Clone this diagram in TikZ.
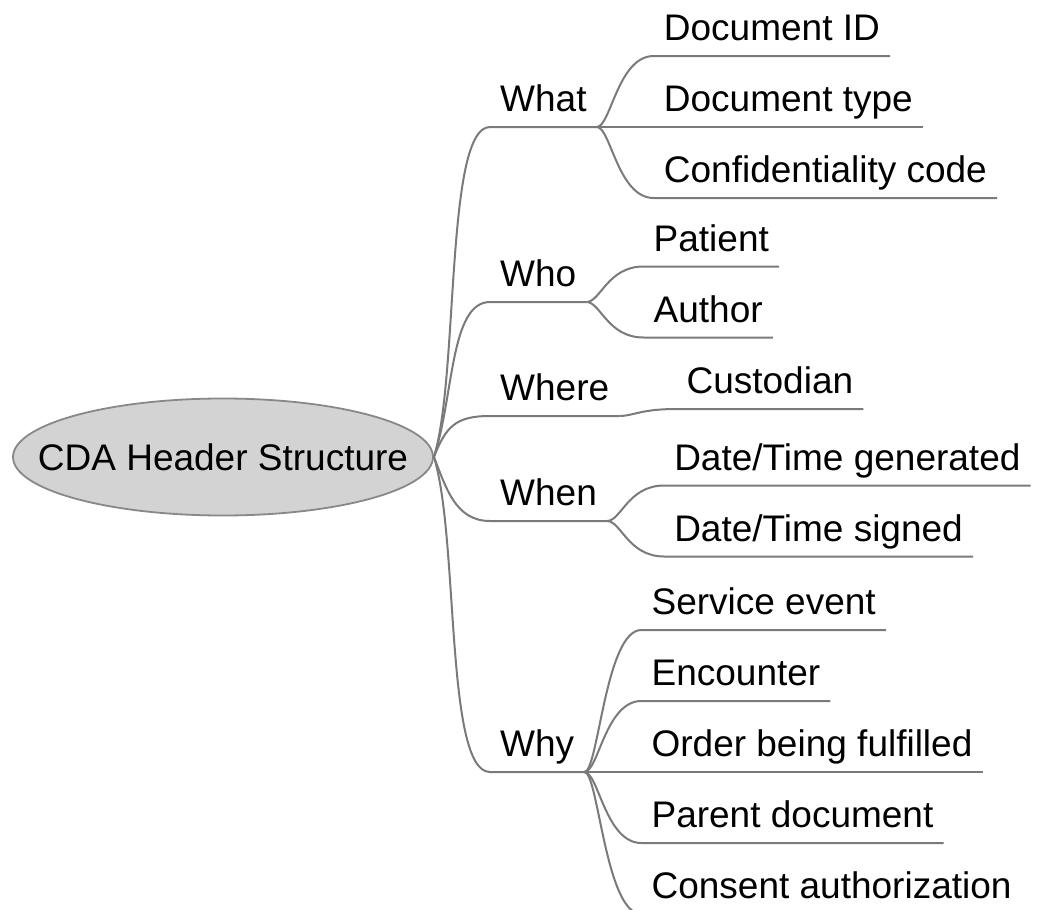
\documentclass[tikz,border=0pt]{standalone}
\usepackage{fontspec}
\setmainfont{Liberation Sans}
\usepackage{tikz}
\usetikzlibrary{shapes.geometric}
\definecolor{linegray}{HTML}{7A7A7A}
\definecolor{fillgray}{HTML}{D3D3D3}
\definecolor{rimgray}{HTML}{888888}

\begin{document}
\begin{tikzpicture}[x=1pt,y=-1pt]
	\tikzstyle{rootnode} = [ellipse, draw=rimgray, fill=fillgray, line width=1.8pt, minimum width=420pt, minimum height=117pt, inner sep=0pt, font=\fontsize{37}{44}\selectfont]
	\tikzstyle{topic} = [anchor=south west, inner xsep=10pt, inner ysep=15pt, text depth=0pt, font=\fontsize{37}{44}\selectfont]
	\tikzstyle{limb} = [draw=linegray, line width=2pt]
	\tikzstyle{fan} = [grow'=right, level distance=57pt, sibling distance=71pt, edge from parent/.style={limb}, edge from parent path={(\tikzparentnode) .. controls +(14,0) and +(-36,0) .. (\tikzchildnode.south west) -- (\tikzchildnode.south east)}]
	\clip (0,0) rectangle (1037,910);
	\node[rootnode] (cda) at (223,457) {\makebox[0pt]{CDA Header Structure}};
	\node[topic] (what) at (490,127) {What};
	\node[topic] (who) at (490,302) {Who};
	\node[topic] (where) at (490,416) {Where};
	\node[topic] (when) at (490,521) {When};
	\node[topic] (why) at (490,772) {Why};
	\coordinate (whatfork) at (what.south east) [fan]
	child{
		node[topic] (docid) {Document ID}
	}
	child{
		node[topic] (doctype) {Document type}
	}
	child{
		node[topic] (confcode) {Confidentiality code}
	};
	\coordinate (whofork) at (who.south east) [fan]
	child{
		node[topic] (patient) {Patient}
	}
	child{
		node[topic] (author) {Author}
	};
	\coordinate (wherefork) at (where.south east) [fan]
	child{
		node[topic, yshift=7pt] (custodian) {Custodian}
	};
	\coordinate (whenfork) at (when.south east) [fan]
	child{
		node[topic] (generated) {Date/Time generated}
	}
	child{
		node[topic] (signed) {Date/Time signed}
	};
	\coordinate (whyfork) at (why.south east) [fan]
	child{
		node[topic] (service) {Service event}
	}
	child{
		node[topic] (encounter) {Encounter}
	}
	child{
		node[topic] (order) {Order being fulfilled}
	}
	child{
		node[topic] (parent) {Parent document}
	}
	child{
		node[topic] (consent) {Consent authorization}
	};
	\draw[limb] (cda.east) .. controls +(25,-80) and +(-45,0) .. (what.south west) -- (whatfork);
	\draw[limb] (cda.east) .. controls +(20,-60) and +(-40,0) .. (who.south west) -- (whofork);
	\draw[limb] (cda.east) .. controls +(12,-30) and +(-35,0) .. (where.south west) -- (wherefork);
	\draw[limb] (cda.east) .. controls +(12,30) and +(-35,0) .. (when.south west) -- (whenfork);
	\draw[limb] (cda.east) .. controls +(25,80) and +(-45,0) .. (why.south west) -- (whyfork);
\end{tikzpicture}
\end{document}
